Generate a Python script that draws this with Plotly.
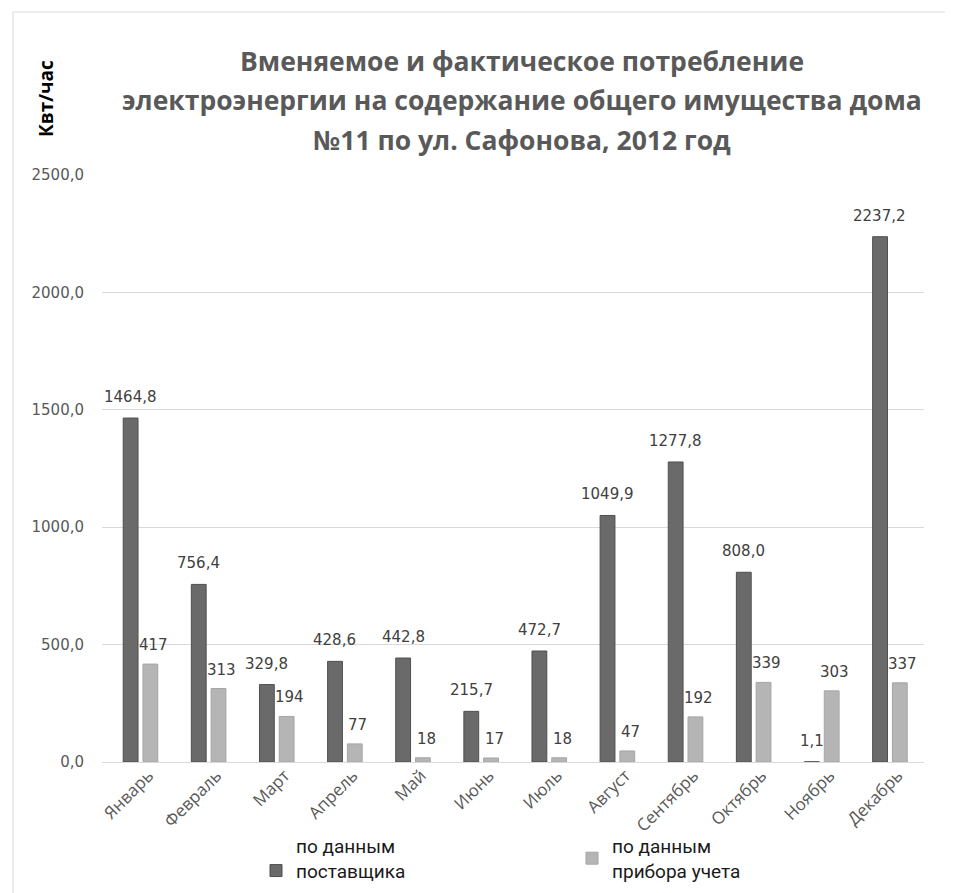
import plotly.graph_objects as go

months = ["Январь", "Февраль", "Март", "Апрель", "Май", "Июнь", "Июль",
          "Август", "Сентябрь", "Октябрь", "Ноябрь", "Декабрь"]
supplier = [1464.8, 756.4, 329.8, 428.6, 442.8, 215.7, 472.7, 1049.9, 1277.8, 808.0, 1.1, 2237.2]
meter = [417, 313, 194, 77, 18, 17, 18, 47, 192, 339, 303, 337]

series_names = ["по данным<br>поставщика<br>электроэнергии", "по данным<br>прибора учета"]
title_lines = ["Вменяемое и фактическое потребление",
               "электроэнергии на содержание общего имущества дома",
               "№11 по ул. Сафонова, 2012 год"]
y_title = "Квт/час"

# page body has an 8px margin: figure is drawn at offset (8, 8)
OFF = 8
W, H = 953 - OFF, 893 - OFF
# plot area in page pixels: x 102..924, y 175..762
L, R, T, B = 102 - OFF, W - (924 - OFF), 175 - OFF, H - (762 - OFF)
PW, PH = W - L - R, H - T - B


def px_x(p):  # page pixel -> paper x
    return (p - OFF - L) / PW


def px_y(p):  # page pixel -> paper y
    return (H - B - (p - OFF)) / PH


DARK, DARK_LINE = "#6a6a6a", "#4f4f4f"
LIGHT, LIGHT_LINE = "#b5b5b5", "#a5a5a5"

fig = go.Figure()
fig.add_trace(go.Bar(x=months, y=supplier, name=series_names[0],
                     marker=dict(color=DARK, line=dict(color=DARK_LINE, width=1))))
fig.add_trace(go.Bar(x=months, y=meter, name=series_names[1],
                     marker=dict(color=LIGHT, line=dict(color=LIGHT_LINE, width=1))))

annotations = []
lab_font = dict(family="DejaVu Sans", size=15, color="#404040")
for m, v in zip(months, supplier):
    annotations.append(dict(x=m, y=v, xref="x", yref="y", text=f"{v:.1f}".replace(".", ","),
                            showarrow=False, yanchor="bottom", xshift=-10, yshift=10, font=lab_font))
for m, v in zip(months, meter):
    annotations.append(dict(x=m, y=v, xref="x", yref="y", text=f"{v:d}",
                            showarrow=False, yanchor="bottom", xshift=13, yshift=8, font=lab_font))

title_font = dict(family="Open Sans", size=26.5, color="#595959", weight="bold")
for line, cy in zip(title_lines, [61, 100, 140]):
    annotations.append(dict(x=px_x(522), y=px_y(cy), xref="paper", yref="paper", text=line,
                            showarrow=False, xanchor="center", yanchor="middle", font=title_font))

annotations.append(dict(x=px_x(46), y=px_y(99), xref="paper", yref="paper", text=y_title,
                        textangle=-90, showarrow=False, xanchor="center", yanchor="middle",
                        font=dict(family="Open Sans", size=19, color="#000000", weight="bold")))

border = dict(color="#d9d9d9", width=1)
fig.update_layout(
    width=W, height=H,
    margin=dict(l=L, r=R, t=T, b=B, autoexpand=False),
    paper_bgcolor="white", plot_bgcolor="white",
    barmode="group", bargap=0.42, bargroupgap=0.25,
    separators=", ",
    showlegend=True,
    legend=dict(orientation="h", x=px_x(256), y=px_y(827), xanchor="left", yanchor="top",
                font=dict(family="Roboto", size=19, color="#1a1a1a"),
                entrywidth=271, entrywidthmode="pixels", valign="middle",
                bgcolor="rgba(0,0,0,0)"),
    annotations=annotations,
    shapes=[
        dict(type="line", xref="paper", yref="paper", x0=px_x(13), y0=px_y(12),
             x1=px_x(1000), y1=px_y(12), line=border, layer="below"),
        dict(type="line", xref="paper", yref="paper", x0=px_x(13), y0=px_y(12),
             x1=px_x(13), y1=px_y(1000), line=border, layer="below"),
    ],
)
fig.update_xaxes(showgrid=False, showline=True, linecolor="#d9d9d9", linewidth=1,
                 tickangle=-45, ticks="", ticklabelshift=8, ticklabelstandoff=-4,
                 tickfont=dict(family="Open Sans", size=17, color="#595959"))
fig.update_yaxes(range=[0, 2500], dtick=500, tickformat=".1f", showgrid=True, gridcolor="#d9d9d9",
                 gridwidth=1, zeroline=False, showline=False, ticks="",
                 tickfont=dict(family="DejaVu Sans", size=15, color="#595959"), ticklabelstandoff=17)

fig.write_html("out.html")
